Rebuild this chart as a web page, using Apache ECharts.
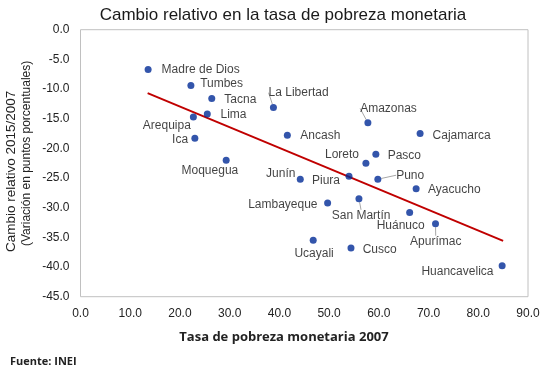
<!DOCTYPE html>
<html>
<head>
<meta charset="utf-8">
<script src="https://cdn.jsdelivr.net/npm/echarts@6/dist/echarts.min.js"></script>
<style>html,body{margin:0;padding:0;background:#fff}#c{width:545px;height:368px}</style>
</head>
<body>
<div id="c"></div>
<script>
var regions = ['Madre de Dios','Tumbes','Tacna','Lima','Arequipa','Ica','Moquegua','La Libertad','Ancash','Junín','Piura','Amazonas','Cajamarca','Pasco','Loreto','Puno','Ayacucho','Lambayeque','San Martín','Huánuco','Apurímac','Ucayali','Cusco','Huancavelica'];
var pobreza2007 = [13.6,22.2,26.4,25.5,22.7,23.0,29.3,38.8,41.6,44.2,54.0,57.8,68.3,59.4,57.4,59.8,67.5,49.7,56.0,66.2,71.4,46.8,54.4,84.8];
var cambioRelativo = [-6.7,-9.4,-11.6,-14.2,-14.7,-18.3,-22.0,-13.1,-17.8,-25.2,-24.7,-15.7,-17.5,-21.0,-22.5,-25.2,-26.8,-29.2,-28.5,-30.8,-32.7,-35.5,-36.8,-39.8];
var trendX = [13.5, 85.0];
var trendY = [-10.7, -35.6];
var xTicks = [0,10,20,30,40,50,60,70,80,90];
var yTicks = [0,-5,-10,-15,-20,-25,-30,-35,-40,-45];

// label placement (offset of label centre from its dot, px) and leader lines
var labelDx = [52.5,30.7,28.6,26.2,-26.5,-14.8,-16.3,25.2,33,-19.5,-23,20.6,41.5,28.5,-23.9,32.3,38.2,-44.8,2.1,-9,0.2,0.9,28.7,-44.7];
var labelDy = [0.7,-1.4,1,1,8.3,1,10.7,-14.7,0.8,-5.5,4,-14.4,1.7,1.4,-9,-4,1,1.3,17,13.4,18,13.7,1.7,6.3];
var leader = ['La Libertad','Amazonas','Puno','San Martín','Apurímac'];

var pts = regions.map(function(n,i){
  return {name:n, value:[pobreza2007[i], cambioRelativo[i]],
    labelLine:{show: leader.indexOf(n) >= 0}};
});

var chart = echarts.init(document.getElementById('c'));
var FONT = '"Liberation Sans", Arial, sans-serif';
chart.setOption({
  animation:false,
  title:{text:'Cambio relativo en la tasa de pobreza monetaria', left:278, textAlign:'center', top:2,
    textStyle:{fontFamily:FONT, fontSize:17, fontWeight:'normal', color:'#1a1a1a'}},
  grid:{left:80.5, right:17, top:29.7, bottom:71.3, show:true, borderColor:'#c0c0c0', borderWidth:1},
  xAxis:{type:'value', min:0, max:90, interval:10,
    axisLine:{show:false}, axisTick:{show:false}, splitLine:{show:false},
    axisLabel:{fontFamily:FONT, fontSize:12, color:'#222', margin:11,
      formatter:function(v){return xTicks.indexOf(v)>=0 ? v.toFixed(1) : '';}}},
  yAxis:{type:'value', min:-45, max:0, interval:5,
    axisLine:{show:false}, axisTick:{show:false}, splitLine:{show:false},
    axisLabel:{fontFamily:FONT, fontSize:12, color:'#222', margin:11,
      formatter:function(v){return yTicks.indexOf(v)>=0 ? v.toFixed(1) : '';}}},
  graphic:[
    {type:'text', rotation:Math.PI/2, x:4, y:252, style:{text:'Cambio relativo 2015/2007', font:'13.5px '+FONT, fill:'#222', align:'left', verticalAlign:'top'}},
    {type:'text', rotation:Math.PI/2, x:21, y:246, style:{text:'(Variación en puntos porcentuales)', font:'12px '+FONT, fill:'#222', align:'left', verticalAlign:'top'}},
    {type:'text', x:284, y:337, style:{text:'Tasa de pobreza monetaria 2007', font:'bold 13px "Open Sans", sans-serif', fill:'#222', align:'center', verticalAlign:'middle'}},
    {type:'text', x:10, y:362, style:{text:'Fuente: INEI', font:'bold 11px "Open Sans", sans-serif', fill:'#222', verticalAlign:'middle'}}
  ],
  series:[
    {type:'line', data:trendX.map(function(x,i){return [x, trendY[i]];}), showSymbol:false, symbol:'none',
      lineStyle:{color:'#c00000', width:2}, z:1},
    {type:'scatter', data:pts, symbolSize:7, itemStyle:{color:'#002a96'}, z:3,
      label:{show:true, position:'inside', formatter:'{b}', fontFamily:FONT, fontSize:12, color:'#111'},
      labelLine:{show:false, lineStyle:{color:'#a6a6a6', width:1}, length2:0},
      labelLayout:function(p){return {dx:labelDx[p.dataIndex], dy:labelDy[p.dataIndex]};}}
  ]
});
</script>
</body>
</html>
